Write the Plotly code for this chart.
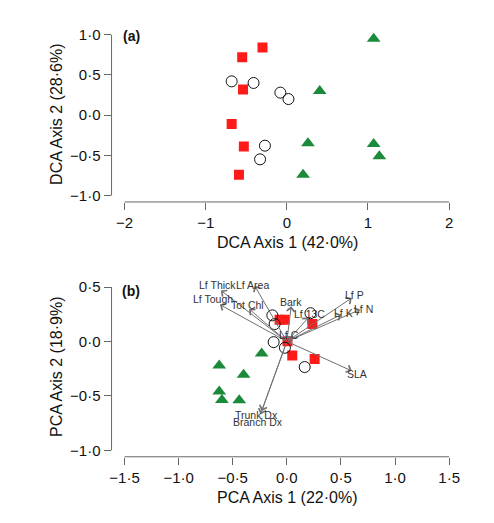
import plotly.graph_objects as go

# ---------------- data ----------------
# Panel (a): DCA scores
a_tri_x = [1.07, 0.405, 0.26, 1.07, 1.14, 0.20]
a_tri_y = [0.95, 0.30, -0.35, -0.36, -0.51, -0.74]
a_sq_x = [-0.30, -0.55, -0.54, -0.68, -0.53, -0.59]
a_sq_y = [0.84, 0.72, 0.32, -0.11, -0.39, -0.74]
a_ci_x = [-0.68, -0.41, -0.08, 0.02, -0.27, -0.33]
a_ci_y = [0.42, 0.40, 0.28, 0.20, -0.38, -0.55]

# Panel (b): PCA scores
b_tri_x = [-0.233, -0.625, -0.40, -0.625, -0.60, -0.44]
b_tri_y = [-0.11, -0.22, -0.305, -0.46, -0.537, -0.54]
b_sq_x = [-0.067, -0.02, 0.236, 0.006, 0.05, 0.257]
b_sq_y = [0.20, 0.20, 0.16, 0.003, -0.128, -0.16]
b_ci_x = [-0.134, -0.113, 0.218, -0.122, -0.018, 0.165]
b_ci_y = [0.24, 0.16, 0.26, -0.006, -0.058, -0.235]

# PCA loadings (arrows) and label positions
var_names = ["Lf Thick", "Lf Area", "Lf Tough", "Tot Chl", "Bark", "Lf 13C",
             "Lf P", "Lf K", "Lf N", "Lf C", "SLA", "Trunk Dx", "Branch Dx"]
tip_x = [-0.609, -0.297, -0.619, -0.349, 0.04, 0.20, 0.60, 0.503, 0.677, 0.05, 0.60, -0.233, -0.242]
tip_y = [0.469, 0.512, 0.339, 0.299, 0.323, 0.22, 0.40, 0.247, 0.293, 0.045, -0.27, -0.638, -0.668]
lab_x = [-0.64, -0.318, -0.686, -0.364, 0.034, 0.209, 0.625, 0.524, 0.708, 0.018, 0.653, -0.278, -0.263]
lab_y = [0.52, 0.52, 0.39, 0.332, 0.363, 0.256, 0.424, 0.263, 0.299, 0.064, -0.296, -0.672, -0.738]

# axes ticks
a_xticks = [-2, -1, 0, 1, 2]
a_xtext = ["\u22122", "\u22121", "0", "1", "2"]
a_yticks = [-1.0, -0.5, 0.0, 0.5, 1.0]
a_ytext = ["\u22121\u00b70", "\u22120\u00b75", "0\u00b70", "0\u00b75", "1\u00b70"]
b_xticks = [-1.5, -1.0, -0.5, 0.0, 0.5, 1.0, 1.5]
b_xtext = ["\u22121\u00b75", "\u22121\u00b70", "\u22120\u00b75", "0\u00b70", "0\u00b75", "1\u00b70", "1\u00b75"]
b_yticks = [-1.0, -0.5, 0.0, 0.5]
b_ytext = ["\u22121\u00b70", "\u22120\u00b75", "0\u00b70", "0\u00b75"]

# ---------------- style ----------------
RED = "#ff1a1a"
GREEN = "#1b8a3a"
AX = "#666666"
TXT = "#111111"
FONT = "Liberation Sans, Arial, Helvetica, sans-serif"
W, H = 494, 523

def px2x(p):
    return p / W

def px2y(p):
    return 1 - p / H

fig = go.Figure()

def add_points(xs, ys, xa, ya):
    tx, ty, sx, sy, cx, cy = xs[0], ys[0], xs[1], ys[1], xs[2], ys[2]
    fig.add_trace(go.Scatter(x=tx, y=ty, mode="markers", xaxis=xa, yaxis=ya,
                             marker=dict(symbol="triangle-up", size=12, color=GREEN,
                                         line=dict(width=0)), showlegend=False))
    fig.add_trace(go.Scatter(x=sx, y=sy, mode="markers", xaxis=xa, yaxis=ya,
                             marker=dict(symbol="square", size=10, color=RED,
                                         line=dict(width=0)), showlegend=False))
    fig.add_trace(go.Scatter(x=cx, y=cy, mode="markers", xaxis=xa, yaxis=ya,
                             marker=dict(symbol="circle-open", size=11, color="#111111",
                                         line=dict(width=1)), showlegend=False))

add_points([a_tri_x, a_sq_x, a_ci_x], [a_tri_y, a_sq_y, a_ci_y], "x", "y")
add_points([b_tri_x, b_sq_x, b_ci_x], [b_tri_y, b_sq_y, b_ci_y], "x2", "y2")

xdom = [px2x(110), px2x(462)]
common = dict(showgrid=False, zeroline=False, showline=False, ticks="outside",
              ticklen=7, tickwidth=1, tickcolor=AX,
              tickfont=dict(family=FONT, size=15, color=TXT), fixedrange=True)

fig.update_layout(
    width=W, height=H,
    margin=dict(l=0, r=0, t=0, b=0),
    paper_bgcolor="white", plot_bgcolor="white",
    xaxis=dict(domain=xdom, range=[-2.16, 2.16], tickmode="array",
               tickvals=a_xticks, ticktext=a_xtext, anchor="y", **common),
    yaxis=dict(domain=[px2y(201.5), px2y(26.5)], range=[-1.08, 1.08], tickmode="array",
               tickvals=a_yticks, ticktext=a_ytext, anchor="x", **common),
    xaxis2=dict(domain=xdom, range=[-1.62, 1.62], tickmode="array",
                tickvals=b_xticks, ticktext=b_xtext, anchor="y2", **common),
    yaxis2=dict(domain=[px2y(458.3), px2y(280.7)], range=[-1.06, 0.56], tickmode="array",
                tickvals=b_yticks, ticktext=b_ytext, anchor="x2", **common),
)

# R-style axis lines spanning first to last tick
shapes = []
shapes.append(dict(type="line", xref="x", yref="y domain", x0=a_xticks[0], x1=a_xticks[-1],
                   y0=0, y1=0, line=dict(color=AX, width=1)))
shapes.append(dict(type="line", xref="x domain", yref="y", x0=0, x1=0,
                   y0=a_yticks[0], y1=a_yticks[-1], line=dict(color=AX, width=1)))
shapes.append(dict(type="line", xref="x2", yref="y2 domain", x0=b_xticks[0], x1=b_xticks[-1],
                   y0=0, y1=0, line=dict(color=AX, width=1)))
shapes.append(dict(type="line", xref="x2 domain", yref="y2", x0=0, x1=0,
                   y0=b_yticks[0], y1=b_yticks[-1], line=dict(color=AX, width=1)))
fig.update_layout(shapes=shapes)

anns = []
# arrows
for tx, ty in zip(tip_x, tip_y):
    anns.append(dict(x=tx, y=ty, ax=0, ay=0, xref="x2", yref="y2", axref="x2", ayref="y2",
                     text="", showarrow=True, arrowhead=4, arrowsize=1.5, arrowwidth=1,
                     arrowcolor="#707070", standoff=0, startstandoff=0))
for nm, lx, ly in zip(var_names, lab_x, lab_y):
    anns.append(dict(x=lx, y=ly, xref="x2", yref="y2", text=nm, showarrow=False,
                     font=dict(family=FONT, size=10.5, color="#333333"),
                     xanchor="center", yanchor="middle"))

# panel letters
anns.append(dict(x=px2x(119), y=px2y(34), xref="paper", yref="paper", text="<b>(a)</b>",
                 showarrow=False, xanchor="left", yanchor="middle",
                 font=dict(family=FONT, size=14, color=TXT)))
anns.append(dict(x=px2x(118), y=px2y(291), xref="paper", yref="paper", text="<b>(b)</b>",
                 showarrow=False, xanchor="left", yanchor="middle",
                 font=dict(family=FONT, size=14, color=TXT)))

# axis titles
tf = dict(family=FONT, size=16, color=TXT)
anns.append(dict(x=px2x(287), y=px2y(242), xref="paper", yref="paper",
                 text="DCA Axis 1 (42\u00b70%)", showarrow=False, font=tf,
                 xanchor="center", yanchor="middle"))
anns.append(dict(x=px2x(54), y=px2y(113), xref="paper", yref="paper",
                 text="DCA Axis 2 (28\u00b76%)", showarrow=False, font=tf, textangle=-90,
                 xanchor="center", yanchor="middle"))
anns.append(dict(x=px2x(287), y=px2y(499), xref="paper", yref="paper",
                 text="PCA Axis 1 (22\u00b70%)", showarrow=False, font=tf,
                 xanchor="center", yanchor="middle"))
anns.append(dict(x=px2x(54), y=px2y(367), xref="paper", yref="paper",
                 text="PCA Axis 2 (18\u00b79%)", showarrow=False, font=tf, textangle=-90,
                 xanchor="center", yanchor="middle"))

fig.update_layout(annotations=anns)

fig.write_html("out.html")
